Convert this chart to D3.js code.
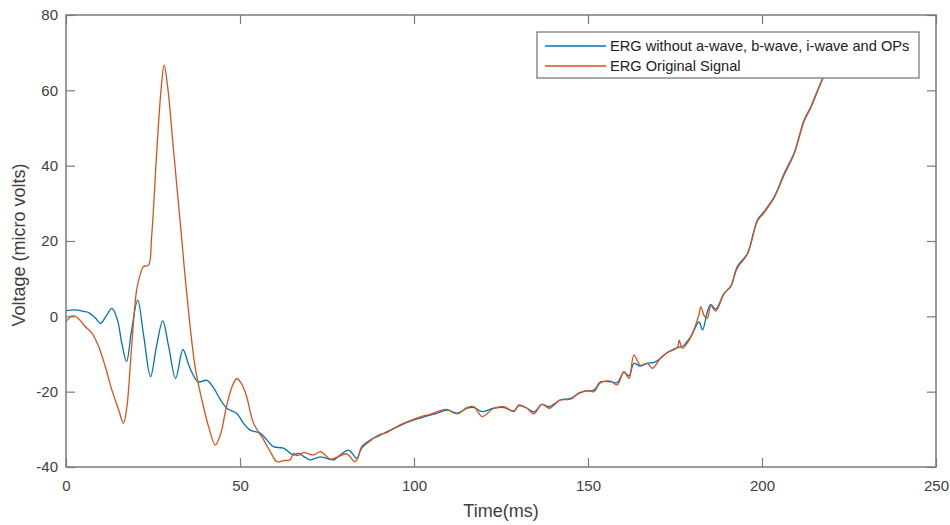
<!DOCTYPE html>
<html>
<head>
<meta charset="utf-8">
<script src="https://cdn.jsdelivr.net/npm/d3@7"></script>
<style>
  body { margin: 0; background: #fff; }
  text { font-family: "Liberation Sans", Arial, sans-serif; fill: #404040; }
  .axis path { display: none; }
  .axis line { stroke: #7a7a7a; stroke-width: 1.2; }
  .axis text { font-size: 15px; }
</style>
</head>
<body>
<div id="chart"></div>
<script>
// ERG without a-wave, b-wave, i-wave and OPs
var filtTime = [0, 2.7, 5, 6.5, 8.5, 9.9, 11.5, 13.2, 14.8, 16, 17.4, 18.8, 20.6, 22.3, 24.3, 26, 27.8, 29.5, 31.5, 33.6,
  35.3, 36.5, 38, 40.5, 42.4, 44.3, 46.2, 49.1, 51, 52.9, 55.8, 57.7, 59.6, 62.5, 65.4, 66.8, 68.5, 70.2, 73.1, 76.9,
  78.8, 81.2, 83.6, 85, 87.5, 89.8, 92.3, 96, 100, 102.5, 104.7, 107, 109.5, 112.4, 115.3, 117.2, 119.6, 122.9, 125.8, 128.7,
  130.1, 132.5, 134.4, 136.8, 138.8, 142.1, 145, 147.4, 149.8, 151.7, 153.6, 156.5, 158.4, 160.3, 161.8, 163.2, 165.1, 167, 169, 170.9,
  172.8, 175.7, 177.1, 179.5, 181.9, 182.9, 184.3, 185.3, 186.7, 189.1, 191, 192.9, 195.8, 198.7, 200.6, 203.5, 206.4, 209.2, 212.1, 214,
  216, 218, 220, 222];
var filtVolt = [1.5, 1.7, 1.3, 1.0, -0.5, -1.9, 0, 2.1, -1, -7, -12, -4, 4.3, -5, -16, -8, -1.2, -8, -16.5, -8.8,
  -13, -15.5, -17.4, -17, -19, -22, -24.4, -25.8, -28.4, -30.2, -31, -32.8, -34.6, -35, -36.8, -36.4, -37.3, -38.1, -37.3, -38.1,
  -36.8, -35.5, -37.7, -34.6, -32.8, -31.8, -30.6, -29.0, -27.5, -26.8, -26.2, -25.6, -24.9, -25.7, -24.4, -24.2, -25.3, -24.4, -24.2, -25.1,
  -23.7, -24.4, -25.4, -23.4, -24.0, -22.2, -21.8, -20.4, -19.8, -19.6, -17.4, -17.4, -17.6, -14.9, -15.8, -12.5, -13.2, -12.5, -12.2, -11.1,
  -9.6, -8.3, -8.0, -5.4, -1.5, -3.6, 1.2, 3.2, 1.9, 6.1, 7.9, 13.2, 16.7, 25.6, 27.8, 31.7, 38, 43.3, 52.1, 55.6,
  60.1, 64.5, 69, 73];

// ERG Original Signal
var origTime = [0, 1.7, 2.7, 4, 5.5, 7.5, 9.4, 11.3, 13.2, 15.2, 16.5, 17.5, 18.7, 20.3, 21.3, 22.2, 23.7, 24.6, 26.1, 27.3,
  28.2, 29.2, 30.9, 33.2, 34.6, 37.1, 39.5, 41.2, 42.9, 44.5, 46.1, 47.8, 49.1, 50.5, 51.9, 53.9, 56.8, 58.7, 60.6, 62.5,
  64.4, 65.4, 66.4, 68.3, 71.2, 73.1, 75.9, 77.9, 80.7, 83.1, 85, 87.5, 89.8, 92.3, 96, 100, 102.5, 104.7, 107, 109.5,
  112.4, 115.3, 117.2, 119.6, 122.9, 125.8, 128.7, 130.1, 132.5, 134.4, 136.8, 138.8, 142.1, 145, 147.4, 149.8, 151.7, 153.6, 156.5, 158.4,
  160.3, 161.8, 163.2, 165.1, 167, 168.5, 170.9, 172.8, 175.7, 176.2, 177.1, 179.5, 181.9, 182.4, 183.5, 184.3, 185.3, 186.7, 189.1, 191,
  192.9, 195.8, 198.7, 200.6, 203.5, 206.4, 209.2, 212.1, 214, 216, 218, 220, 222];
var origVolt = [-1.4, 0.1, 0, -1, -2.7, -4.5, -8.1, -13.4, -19.6, -25, -28.4, -24, -10, 7, 11, 13.2, 13.6, 21.1, 44.1, 60,
  66.7, 61, 44.1, 21.1, 7, -13.4, -24, -30, -34.2, -31, -24, -18.5, -16.5, -18, -21.3, -28.4, -32.8, -35.9, -38.6, -38.3,
  -38.1, -36.4, -37.0, -36.2, -36.8, -35.9, -37.9, -37.4, -36.5, -38.6, -35, -33, -31.5, -30.8, -28.8, -27.3, -26.5, -26.0, -25.2, -24.7,
  -25.9, -24.2, -24.0, -26.6, -24.4, -24.0, -25.3, -23.5, -24.4, -25.9, -23.3, -24.4, -22.2, -22.0, -20.4, -19.7, -20.0, -17.6, -17.2, -18.2,
  -14.7, -16.5, -10.3, -13.0, -12.5, -13.8, -11.0, -9.6, -8.3, -6.3, -8.5, -5.6, 0.5, 2.5, 0, -0.5, 2.8, 1.4, 6.0, 8.0,
  12.8, 16.5, 25.3, 27.5, 31.5, 37.6, 43, 51.8, 55.3, 59.8, 64.3, 68.8, 73];

var xTicks = [0, 50, 100, 150, 200, 250];
var yTicks = [-40, -20, 0, 20, 40, 60, 80];
var seriesNames = ["ERG without a-wave, b-wave, i-wave and OPs", "ERG Original Signal"];
var seriesColors = ["#0072BD", "#D95319"];

var margin = { top: 15, right: 14, bottom: 58, left: 66 },
    width = 950 - margin.left - margin.right,
    height = 525 - margin.top - margin.bottom;

var svg = d3.select("#chart")
    .append("svg")
    .attr("width", width + margin.left + margin.right)
    .attr("height", height + margin.top + margin.bottom)
    .append("g")
    .attr("transform", "translate(" + margin.left + "," + margin.top + ")");

var x = d3.scaleLinear().domain([0, 250]).range([0, width]);
var y = d3.scaleLinear().domain([-40, 80]).range([height, 0]);

svg.append("defs").append("clipPath").attr("id", "plotclip")
    .append("rect").attr("width", width).attr("height", height);

// series
var series = [
  d3.zip(filtTime, filtVolt),
  d3.zip(origTime, origVolt)
];

var line = d3.line()
    .x(d => x(d[0]))
    .y(d => y(d[1]))
    .curve(d3.curveCatmullRom.alpha(0.5));

svg.append("g")
    .attr("clip-path", "url(#plotclip)")
    .selectAll("path")
    .data(series)
    .join("path")
    .attr("d", line)
    .attr("fill", "none")
    .attr("stroke", (d, i) => seriesColors[i])
    .attr("stroke-width", 1.3);

// axes, ticks pointing inward like matlab; plain hyphen for negatives
var plain = d => String(d);

svg.append("g")
    .attr("class", "axis")
    .attr("transform", "translate(0," + height + ")")
    .call(d3.axisBottom(x).tickValues(xTicks).tickFormat(plain).tickSizeInner(-9).tickSizeOuter(0).tickPadding(13));

svg.append("g")
    .attr("class", "axis")
    .call(d3.axisLeft(y).tickValues(yTicks).tickFormat(plain).tickSizeInner(-9).tickSizeOuter(0).tickPadding(8));

svg.append("g")
    .attr("class", "axis")
    .call(d3.axisTop(x).tickValues(xTicks).tickSizeInner(-9).tickSizeOuter(0).tickFormat(""));

svg.append("g")
    .attr("class", "axis")
    .attr("transform", "translate(" + width + ",0)")
    .call(d3.axisRight(y).tickValues(yTicks).tickSizeInner(-9).tickSizeOuter(0).tickFormat(""));

svg.append("rect")
    .attr("width", width)
    .attr("height", height)
    .attr("fill", "none")
    .attr("stroke", "#7a7a7a")
    .attr("stroke-width", 1.5);

// axis labels
svg.append("text")
    .attr("x", width / 2)
    .attr("y", height + 50)
    .attr("text-anchor", "middle")
    .style("font-size", "18px")
    .text("Time(ms)");

svg.append("text")
    .attr("transform", "translate(" + (-41) + "," + (height / 2 + 4) + ") rotate(-90)")
    .attr("text-anchor", "middle")
    .style("font-size", "18px")
    .text("Voltage (micro volts)");

// legend
var legend = svg.append("g")
    .attr("transform", "translate(" + (537 - margin.left) + "," + (32 - margin.top) + ")");

legend.append("rect")
    .attr("width", 382)
    .attr("height", 46)
    .attr("fill", "#fff")
    .attr("stroke", "#6e6e6e")
    .attr("stroke-width", 1.2);

var item = legend.selectAll(".item")
    .data(seriesNames)
    .join("g")
    .attr("class", "item")
    .attr("transform", (d, i) => "translate(0," + (14 + i * 20) + ")");

item.append("line")
    .attr("x1", 8)
    .attr("x2", 69)
    .attr("stroke", (d, i) => seriesColors[i])
    .attr("stroke-width", 1.3);

item.append("text")
    .attr("x", 73)
    .attr("dy", "0.35em")
    .style("font-size", "14.6px")
    .style("fill", "#222")
    .text(d => d);
</script>
</body>
</html>
